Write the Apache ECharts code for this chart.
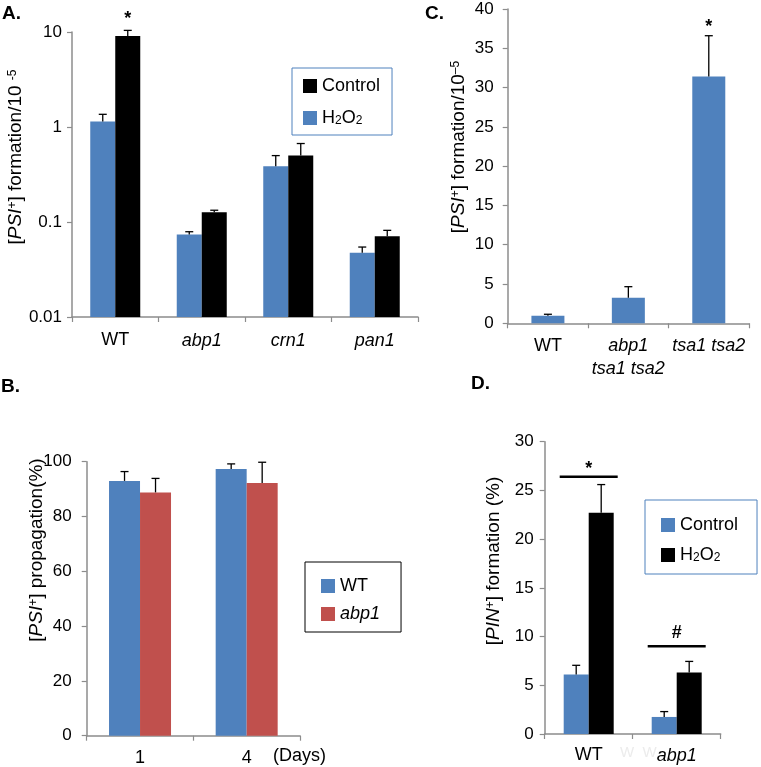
<!DOCTYPE html>
<html><head><meta charset="utf-8">
<script src="https://cdn.jsdelivr.net/npm/echarts@6/dist/echarts.min.js"></script>
<style>html,body{margin:0;padding:0;background:#fff}#c{width:761px;height:767px}</style>
</head><body><div id="c"></div>
<script>
// ---------- Panel A (log scale) ----------
const catsA = ['WT', 'abp1', 'crn1', 'pan1'];
const aH2O2 = [1.14, 0.074, 0.386, 0.0475];
const aH2O2Err = [0.22, 0.005, 0.114, 0.007];
const aControl = [9.08, 0.127, 0.50, 0.0707];
const aControlErr = [1.32, 0.006, 0.17, 0.011];
const aControlSig = ['*', '', '', ''];
// ---------- Panel C ----------
const catsC = ['WT', 'abp1\ntsa1 tsa2', 'tsa1 tsa2'];
const cVals = [0.97, 3.26, 31.4];
const cErr = [0.18, 1.4, 5.2];
const cSig = ['', '', '*'];
// ---------- Panel B ----------
const catsB = ['1', '4'];
const bWT = [93.0, 97.3];
const bWTErr = [3.4, 1.9];
const bAbp1 = [88.8, 92.2];
const bAbp1Err = [5.1, 7.6];
// ---------- Panel D ----------
const catsD = ['WT', 'abp1'];
const dControl = [6.1, 1.75];
const dControlErr = [0.95, 0.55];
const dH2O2 = [22.7, 6.3];
const dH2O2Err = [2.9, 1.15];
const dSigLevel = [26.4, 9.0];
const dSigMark = ['*', '#'];

const FF = '"Liberation Sans", Arial, Helvetica, sans-serif';
const BLUE = '#4F81BD', RED = '#C0504D', BLACK = '#000000';
const AX = '#8c8c8c';

function catFmt(v) {
  return v.split('\n').map(s => (s === 'WT' || /^\d+$/.test(s)) ? s : '{i|' + s + '}').join('\n');
}
function xAxisCfg(grid, cats, margin) {
  return {
    type: 'category', gridIndex: grid, data: cats,
    axisLine: {lineStyle: {color: AX, width: 1.5}},
    axisTick: {show: true, length: 5, lineStyle: {color: AX, width: 1.2}},
    axisLabel: {interval: 0, margin: margin, formatter: catFmt, color: '#000', fontSize: 18, fontFamily: FF, lineHeight: 23,
      rich: {i: {fontStyle: 'italic', fontSize: 18, fontFamily: FF, color: '#000', lineHeight: 23}}},
    splitLine: {show: false}
  };
}
function yAxisCfg(grid, min, max, interval, margin) {
  return {
    type: 'value', gridIndex: grid, min: min, max: max, interval: interval,
    axisLine: {show: true, lineStyle: {color: AX, width: 1.5}},
    axisTick: {show: true, length: 5, lineStyle: {color: AX, width: 1.2}},
    axisLabel: {margin: margin, color: '#000', fontSize: 17, fontFamily: FF},
    splitLine: {show: false}
  };
}
function errSeries(name, x, y, vals, errs, offset) {
  return {
    type: 'custom', name: name, xAxisIndex: x, yAxisIndex: y, z: 5, silent: true,
    data: vals.map((v, i) => [i, v, errs[i]]),
    renderItem: function (params, api) {
      const c = api.value(0), v = api.value(1), e = api.value(2);
      const p0 = api.coord([c, v]), p1 = api.coord([c, v + e]);
      const xx = p0[0] + offset;
      return {type: 'group', children: [
        {type: 'line', shape: {x1: xx, y1: p0[1], x2: xx, y2: p1[1]}, style: {stroke: '#000', lineWidth: 1.3}},
        {type: 'line', shape: {x1: xx - 4, y1: p1[1], x2: xx + 4, y2: p1[1]}, style: {stroke: '#000', lineWidth: 1.3}}
      ]};
    }
  };
}
function sigSeries(name, x, y, vals, errs, marks, offset, lift) {
  return {
    type: 'custom', name: name, xAxisIndex: x, yAxisIndex: y, z: 6, silent: true,
    data: vals.map((v, i) => [i, v + errs[i]]),
    renderItem: function (params, api) {
      const m = marks[params.dataIndex];
      if (!m) return null;
      const p = api.coord([api.value(0), api.value(1)]);
      return {type: 'text', x: p[0] + offset, y: p[1] - lift,
        style: {text: m, fill: '#000', font: 'bold 18px ' + FF, align: 'center', verticalAlign: 'middle'}};
    }
  };
}
function logBarSeries(name, vals, color, offset, width) {
  return {
    type: 'custom', name: name, xAxisIndex: 0, yAxisIndex: 0, z: 2,
    itemStyle: {color: color},
    data: vals.map((v, i) => [i, v]),
    renderItem: function (params, api) {
      const c = api.value(0), v = api.value(1);
      const p = api.coord([c, v]);
      const b = api.coord([c, 0.01]);
      return {type: 'rect', shape: {x: p[0] + offset - width / 2, y: p[1], width: width, height: b[1] - p[1]},
        style: {fill: color}};
    }
  };
}

const legendNames = {
  'Control': 'Control', 'H2O2': 'H{sub|2}O{sub|2}',
  'Control ': 'Control', 'H2O2 ': 'H{sub|2}O{sub|2}',
  'WT': 'WT', 'abp1': '{i|abp1}'
};
const legendText = {
  fontSize: 18, fontFamily: FF, color: '#000',
  rich: {sub: {fontSize: 12, fontFamily: FF, verticalAlign: 'bottom', color: '#000'},
         i: {fontSize: 18, fontFamily: FF, fontStyle: 'italic', color: '#000'}}
};
function legendCfg(data, left, top, border, padding, gap) {
  return {
    orient: 'vertical', left: left, top: top, data: data, icon: 'rect',
    itemWidth: 14, itemHeight: 14, itemGap: gap, padding: padding,
    borderColor: border, borderWidth: 1, backgroundColor: '#fff',
    selectedMode: false,
    formatter: n => legendNames[n], textStyle: legendText
  };
}

const titleRich = {
  i: {fontStyle: 'italic', fontSize: 19, fontFamily: FF, fill: '#000'},
  sup: {fontSize: 12, fontFamily: FF, verticalAlign: 'top', fill: '#000'}
};
function rotTitle(text, x, y) {
  return {type: 'text', x: x, y: y, rotation: Math.PI / 2,
    style: {text: text, rich: titleRich, fontSize: 19, fontFamily: FF, fill: '#000', align: 'center', verticalAlign: 'middle'}};
}
function panelLabel(t, x, y) {
  return {type: 'text', x: x, y: y, style: {text: t, font: 'bold 19px ' + FF, fill: '#000'}};
}

const option = {
  animation: false,
  backgroundColor: '#fff',
  grid: [
    {left: 72, top: 32, width: 346, height: 285, outerBoundsMode: 'none'},
    {left: 507.7, top: 9, width: 241.3, height: 314.3, outerBoundsMode: 'none'},
    {left: 86.7, top: 461.7, width: 213.3, height: 274, outerBoundsMode: 'none'},
    {left: 544.7, top: 441.7, width: 176, height: 292.3, outerBoundsMode: 'none'}
  ],
  xAxis: [
    xAxisCfg(0, catsA, 12),
    xAxisCfg(1, catsC, 11),
    xAxisCfg(2, catsB, 11),
    xAxisCfg(3, catsD, 10)
  ],
  yAxis: [
    Object.assign(yAxisCfg(0, 0.01, 10, null, 10), {type: 'log', logBase: 10,
      axisLabel: {margin: 10, color: '#000', fontSize: 17, fontFamily: FF,
        formatter: v => String(parseFloat(Number(v).toPrecision(6)))}}),
    yAxisCfg(1, 0, 40, 5, 14),
    yAxisCfg(2, 0, 100, 20, 15),
    yAxisCfg(3, 0, 30, 5, 11)
  ],
  legend: [
    legendCfg(['Control', 'H2O2'], 292, 68, BLUE, [9, 12, 8, 11], 14),
    legendCfg(['WT', 'abp1'], 305, 562, '#000', [15, 21, 9, 16], 10),
    legendCfg(['Control ', 'H2O2 '], 645, 500, BLUE, [16, 19, 10, 16], 12)
  ],
  series: [
    // A
    logBarSeries('H2O2', aH2O2, BLUE, -12.5, 25),
    logBarSeries('Control', aControl, BLACK, 12.5, 25),
    errSeries('errA1', 0, 0, aH2O2, aH2O2Err, -12.5),
    errSeries('errA2', 0, 0, aControl, aControlErr, 12.5),
    sigSeries('sigA', 0, 0, aControl, aControlErr, aControlSig, 12.5, 11),
    // C
    {type: 'bar', name: 'C', xAxisIndex: 1, yAxisIndex: 1, data: cVals, barWidth: 33, itemStyle: {color: BLUE}},
    errSeries('errC', 1, 1, cVals, cErr, 0),
    sigSeries('sigC', 1, 1, cVals, cErr, cSig, 0, 9),
    // B
    {type: 'bar', name: 'WT', xAxisIndex: 2, yAxisIndex: 2, data: bWT, barWidth: 31, barGap: '0%', itemStyle: {color: BLUE}},
    {type: 'bar', name: 'abp1', xAxisIndex: 2, yAxisIndex: 2, data: bAbp1, barWidth: 31, barGap: '0%', itemStyle: {color: RED}},
    errSeries('errB1', 2, 2, bWT, bWTErr, -15.5),
    errSeries('errB2', 2, 2, bAbp1, bAbp1Err, 15.5),
    // D
    {type: 'bar', name: 'Control ', xAxisIndex: 3, yAxisIndex: 3, data: dControl, barWidth: 25, barGap: '0%', itemStyle: {color: BLUE}},
    {type: 'bar', name: 'H2O2 ', xAxisIndex: 3, yAxisIndex: 3, data: dH2O2, barWidth: 25, barGap: '0%', itemStyle: {color: BLACK}},
    errSeries('errD1', 3, 3, dControl, dControlErr, -12.5),
    errSeries('errD2', 3, 3, dH2O2, dH2O2Err, 12.5),
    {
      type: 'custom', name: 'sigD', xAxisIndex: 3, yAxisIndex: 3, z: 6, silent: true,
      data: dSigLevel.map((v, i) => [i, v]),
      renderItem: function (params, api) {
        const p = api.coord([api.value(0), api.value(1)]);
        const m = dSigMark[params.dataIndex];
        return {type: 'group', children: [
          {type: 'line', shape: {x1: p[0] - 29, y1: p[1], x2: p[0] + 29, y2: p[1]}, style: {stroke: '#000', lineWidth: 2.6}},
          {type: 'text', x: p[0], y: p[1] - (m === '*' ? 8 : 13),
            style: {text: m, fill: '#000', font: 'bold 18px ' + FF, align: 'center', verticalAlign: 'middle'}}
        ]};
      }
    }
  ],
  graphic: [
    panelLabel('A.', 2, 4),
    panelLabel('C.', 425, 4),
    panelLabel('B.', 1, 377),
    panelLabel('D.', 471, 374),
    rotTitle('[{i|PSI}{sup|+}] formation/10 {sup|-5}', 16, 157),
    rotTitle('[{i|PSI}{sup|+}] formation/10{sup|–5}', 459, 147),
    rotTitle('[{i|PSI}{sup|+}] propagation(%)', 37, 550),
    rotTitle('[{i|PIN}{sup|+}] formation (%)', 494, 561),
    {type: 'text', x: 273, y: 756, style: {text: '(Days)', fontSize: 18, fontFamily: FF, fill: '#000', verticalAlign: 'middle'}},
    {type: 'text', x: 620, y: 753, style: {text: 'W  W', fontSize: 15, fontFamily: FF, fill: '#ececec', verticalAlign: 'middle'}}
  ]
};
const chart = echarts.init(document.getElementById('c'), null, {renderer: 'canvas'});
chart.setOption(option);
</script>
</body></html>
